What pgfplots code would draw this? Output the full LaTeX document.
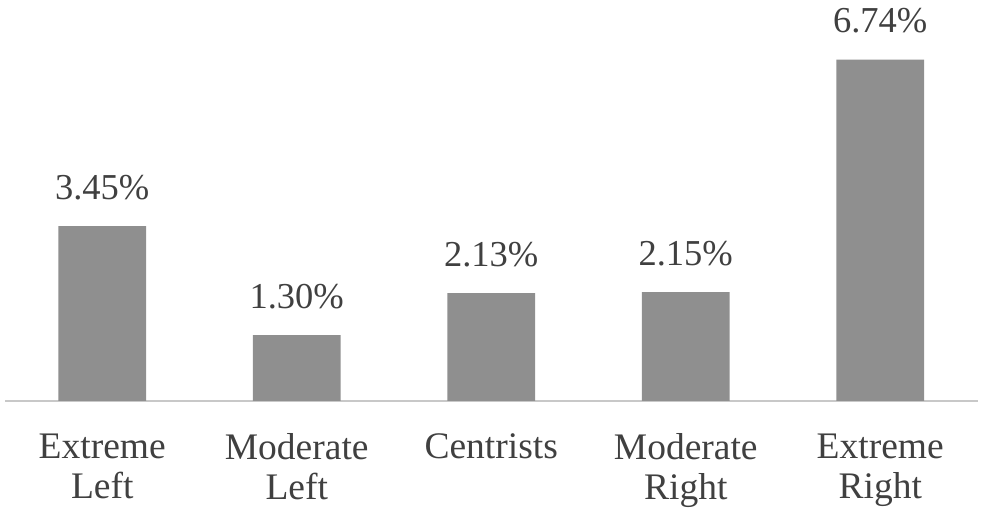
\documentclass[border=0pt]{standalone}
\usepackage{pgfplots}
\pgfplotsset{compat=1.18}
\usepackage{fontspec}
\setmainfont{Liberation Serif}
\definecolor{barc}{HTML}{8F8F8F}
\definecolor{txt}{HTML}{404040}
\definecolor{axc}{HTML}{C8C8C8}
\begin{document}
\begin{tikzpicture}
\begin{axis}[
  scale only axis,
  width=972.5pt, height=380pt,
  xmin=-0.5, xmax=4.5, ymin=0, ymax=7.5,
  clip=false,
  axis x line*=bottom, axis y line=none,
  x axis line style={draw=axc, line width=2pt, -},
  ytick=\empty,
  xtick=data,
  xticklabels={{Extreme\\Left},{Moderate\\Left},{Centrists},{Moderate\\Right},{Extreme\\Right}},
  major tick length=0pt,
  xticklabel style={align=center, anchor=north, font=\fontsize{37.5}{40}\selectfont, text=txt, yshift=-29pt},
  /pgf/number format/assume math mode=true,
  ybar, bar width=0.45,
  nodes near coords={\pgfmathprintnumber[fixed,fixed zerofill,precision=2]{\pgfplotspointmeta}\%},
  nodes near coords style={anchor=base, inner sep=0pt, yshift=27pt, font=\fontsize{36.5}{40}\selectfont, text=txt},
]
\addplot[fill=barc, draw=none] coordinates {(0,3.45) (1,1.30) (2,2.13) (3,2.15) (4,6.74)};
\end{axis}
\path (current axis.south west) ++(-5pt,-115pt) rectangle ++(985pt,516pt);
\end{tikzpicture}
\end{document}
